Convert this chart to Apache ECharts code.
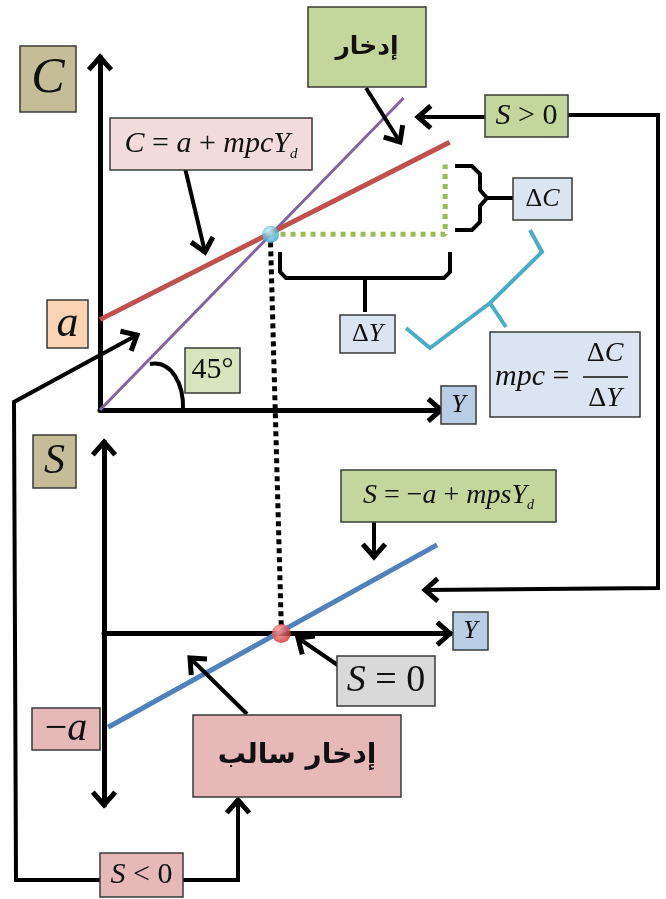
<!DOCTYPE html>
<html>
<head>
<meta charset="utf-8">
<script src="https://cdn.jsdelivr.net/npm/echarts@6/dist/echarts.min.js"></script>
<style>
html, body { margin: 0; padding: 0; background: #fff; }
#main { width: 666px; height: 899px; }
</style>
</head>
<body>
<div id="main"></div>
<script>
// upper panel: consumption C against income Y
var line45 = [[0, 0], [8.9, 9.15]];
var consumption = [[0, 2.65], [10.25, 7.85]];
var breakEvenC = [[5.0, 5.15]];
var deltaSteps = [[5.0, 5.15], [10.12, 5.15], [10.12, 7.2]];
// lower panel: saving S against income Y
var saving = [[0.12, -2.75], [9.77, 2.6]];
var breakEvenS = [[5.2, 0]];
// axis ranges (34.1 px per unit in both panels)
var topX = [0, 10], topY = [0, 10.35];
var topPlotX = [0, 10.32];
var botX = [0, 10.15], botY = [-5.03, 5.62];

var MATH = '"Liberation Serif", "DejaVu Serif", serif';
var ARAB = '"DejaVu Sans", sans-serif';
var INK = '#111';

var chart = echarts.init(document.getElementById('main'));

function axis(grid, range, showLine) {
    return {
        gridIndex: grid, type: 'value', min: range[0], max: range[1],
        axisLine: { show: showLine, lineStyle: { color: '#000', width: 5 } },
        axisTick: { show: false }, axisLabel: { show: false }, splitLine: { show: false }
    };
}

function ball(c1, c2) {
    return { type: 'radial', x: 0.4, y: 0.35, r: 0.75,
        colorStops: [{ offset: 0, color: c1 }, { offset: 1, color: c2 }] };
}

chart.setOption({
    animation: false,
    backgroundColor: '#fff',
    grid: [
        { left: 100, top: 57, width: 352, height: 353 },   // upper plot area
        { left: 104, top: 442, width: 346, height: 363 },  // lower plot area
        { left: 100, top: 57, width: 341, height: 353 }    // upper axes
    ],
    xAxis: [axis(0, topPlotX, false), axis(1, botX, true), axis(2, topX, true)],
    yAxis: [axis(0, topY, false), axis(1, botY, true), axis(2, topY, true)],
    series: [
        { type: 'line', xAxisIndex: 0, yAxisIndex: 0, data: line45, symbol: 'none',
          lineStyle: { color: '#8064a2', width: 3 } },
        { type: 'line', xAxisIndex: 0, yAxisIndex: 0, data: consumption, symbol: 'none',
          lineStyle: { color: '#c0504d', width: 5 } },
        { type: 'line', xAxisIndex: 0, yAxisIndex: 0, data: deltaSteps, symbol: 'none',
          lineStyle: { color: '#9bbb59', width: 5, type: [5, 5], cap: 'butt' } },
        { type: 'scatter', xAxisIndex: 0, yAxisIndex: 0, data: breakEvenC, symbolSize: 17, z: 5,
          itemStyle: { color: ball('#c8f6ff', '#1591bd') } },
        { type: 'line', xAxisIndex: 1, yAxisIndex: 1, data: saving, symbol: 'none',
          lineStyle: { color: '#4f81bd', width: 5 } },
        { type: 'scatter', xAxisIndex: 1, yAxisIndex: 1, data: breakEvenS, symbolSize: 19, z: 5,
          itemStyle: { color: ball('#ff9c9c', '#c62020') } }
    ]
});

// ---- annotations ----
function px(grid, pt) { return chart.convertToPixel({ gridIndex: grid }, pt); }

function stroke(w) { return { stroke: '#000', lineWidth: w || 4, fill: null, lineJoin: 'miter', lineCap: 'butt' }; }

function head(tip, ang) {
    var len = 17, spr = 0.72;
    var a1 = ang + Math.PI - spr, a2 = ang + Math.PI + spr;
    return { type: 'polyline', z: 12, shape: { points: [
        [tip[0] + len * Math.cos(a1), tip[1] + len * Math.sin(a1)], tip,
        [tip[0] + len * Math.cos(a2), tip[1] + len * Math.sin(a2)]] }, style: stroke(5) };
}

function arrow(pts) {
    var a = pts[pts.length - 2], b = pts[pts.length - 1];
    return [
        { type: 'polyline', z: 12, shape: { points: pts }, style: stroke(4) },
        head(b, Math.atan2(b[1] - a[1], b[0] - a[0]))
    ];
}

function rich(size) {
    return {
        i: { fontFamily: MATH, fontStyle: 'italic', fontSize: size, fill: INK, lineHeight: size * 1.2 },
        u: { fontFamily: MATH, fontSize: size, fill: INK, lineHeight: size * 1.2 },
        s: { fontFamily: MATH, fontStyle: 'italic', fontSize: size * 0.5, fill: INK,
             lineHeight: size * 0.5, verticalAlign: 'bottom' }
    };
}

function box(x, y, w, h, fill, text, size, font) {
    var st = { text: text, x: w / 2, y: h / 2, align: 'center', verticalAlign: 'middle',
               textAlign: 'center', textVerticalAlign: 'middle', fill: INK };
    if (font) st.font = font; else st.rich = rich(size);
    return { type: 'group', x: x, y: y, z: 20, children: [
        { type: 'rect', z: 20, shape: { x: 0, y: 0, width: w, height: h },
          style: { fill: fill, stroke: '#3a3a3a', lineWidth: 1.5 } },
        { type: 'text', z: 21, style: st }
    ] };
}

var TAN = '#c4bd97', PINK = '#f2dcdb', GREEN = '#c3d69b', LGREEN = '#d7e4bd',
    LBLUE = '#dbe5f1', BLUE = '#b9cde5', PEACH = '#fbd4b4', ROSE = '#e6b9b8', GREY = '#d9d9d9';

var g = [];

// axis arrow heads at the ends of the library axes
var tC = px(2, [0, topY[1]]), tY = px(2, [topX[1], 0]);
var bS1 = px(1, [0, botY[1]]), bS2 = px(1, [0, botY[0]]), bY = px(1, [botX[1], 0]);
g.push(head(tC, -Math.PI / 2), head(tY, 0), head(bS1, -Math.PI / 2), head(bS2, Math.PI / 2), head(bY, 0));

// dotted link between the two break-even points
var d1 = px(0, breakEvenC[0]), d2 = px(1, breakEvenS[0]);
g.push({ type: 'line', z: 1, shape: { x1: d1[0], y1: d1[1] + 8, x2: d2[0], y2: d2[1] - 8 },
         style: { stroke: '#000', lineWidth: 5, lineDash: [5, 4] } });

// boxes
g.push(box(20, 46, 56, 66, TAN, '{i|C}', 50));
g.push(box(110, 118, 202, 52, PINK, '{i|C}{u| = }{i|a}{u| + }{i|mpcY}{s|d}', 30));
g.push(box(308, 7, 118, 80, GREEN, 'إدخار', 0, 'bold 25px ' + ARAB));
g.push(box(485, 95, 83, 42, GREEN, '{i|S}{u| > 0}', 30));
g.push(box(513, 178, 59, 42, LBLUE, '{u|Δ}{i|C}', 26));
g.push(box(340, 315, 55, 38, LBLUE, '{u|Δ}{i|Y}', 26));
g.push(box(47, 300, 41, 48, PEACH, '{i|a}', 44));
g.push(box(185, 348, 55, 45, LGREEN, '{u|45°}', 30));
g.push(box(441, 386, 35, 38, BLUE, '{i|Y}', 26));
g.push(box(33, 435, 43, 53, TAN, '{i|S}', 42));
g.push(box(341, 470, 215, 52, GREEN, '{i|S}{u| = −}{i|a}{u| + }{i|mpsY}{s|d}', 28));
g.push(box(453, 612, 35, 38, BLUE, '{i|Y}', 26));
g.push(box(337, 656, 98, 50, GREY, '{i|S}{u| = 0}', 38));
g.push(box(32, 708, 68, 42, ROSE, '{u|−}{i|a}', 40));
g.push(box(193, 715, 208, 82, ROSE, 'إدخار سالب', 0, 'bold 28px ' + ARAB));
g.push(box(100, 853, 83, 44, ROSE, '{i|S}{u| < 0}', 30));

// mpc = ΔC / ΔY
g.push({ type: 'group', x: 490, y: 332, z: 20, children: [
    { type: 'rect', z: 20, shape: { x: 0, y: 0, width: 150, height: 85 },
      style: { fill: LBLUE, stroke: '#3a3a3a', lineWidth: 1.5 } },
    { type: 'text', z: 21, style: { text: '{i|mpc}{u| =}', rich: rich(30), x: 5, y: 45,
      align: 'left', verticalAlign: 'middle', textAlign: 'left', textVerticalAlign: 'middle' } },
    { type: 'text', z: 21, style: { text: '{u|Δ}{i|C}', rich: rich(28), x: 115, y: 22,
      align: 'center', verticalAlign: 'middle', textAlign: 'center', textVerticalAlign: 'middle' } },
    { type: 'line', z: 21, shape: { x1: 93, y1: 45, x2: 138, y2: 45 }, style: { stroke: INK, lineWidth: 1.5 } },
    { type: 'text', z: 21, style: { text: '{u|Δ}{i|Y}', rich: rich(28), x: 115, y: 67,
      align: 'center', verticalAlign: 'middle', textAlign: 'center', textVerticalAlign: 'middle' } }
] });

// pointer arrows
g = g.concat(arrow([[185, 168], [205, 252]]));
g = g.concat(arrow([[366, 88], [400, 142]]));
g = g.concat(arrow([[485, 117], [418, 117]]));
g = g.concat(arrow([[568, 115], [658, 115], [658, 588], [425, 590]]));
g = g.concat(arrow([[100, 880], [16, 880], [14, 402], [137, 335]]));
g = g.concat(arrow([[183, 880], [238, 880], [238, 800]]));
g = g.concat(arrow([[374, 522], [374, 557]]));
g = g.concat(arrow([[247, 714], [190, 658]]));
g = g.concat(arrow([[342, 668], [298, 638]]));

// braces
g.push({ type: 'polyline', z: 12, shape: { points: [[455, 166], [472, 166], [480, 174], [480, 190], [487, 198], [480, 206], [480, 222], [472, 230], [455, 230]] }, style: stroke(4) });
g.push({ type: 'line', z: 12, shape: { x1: 487, y1: 198, x2: 513, y2: 198 }, style: stroke(4) });
g.push({ type: 'polyline', z: 12, shape: { points: [[280, 252], [280, 272], [286, 278], [444, 278], [450, 272], [450, 252]] }, style: stroke(4) });
g.push({ type: 'line', z: 12, shape: { x1: 365, y1: 278, x2: 365, y2: 312 }, style: stroke(4) });
g.push({ type: 'polyline', z: 12, shape: { points: [[530, 230], [542, 252], [490, 303], [430, 348], [406, 328]] },
         style: { stroke: '#4bacc6', lineWidth: 4, fill: null } });
g.push({ type: 'line', z: 12, shape: { x1: 490, y1: 303, x2: 506, y2: 327 }, style: { stroke: '#4bacc6', lineWidth: 4 } });

// 45 degree arc
g.push({ type: 'bezierCurve', z: 12, shape: { x1: 150, y1: 364, cpx1: 172, cpy1: 360, cpx2: 184, cpy2: 385, x2: 183, y2: 410 },
         style: stroke(4) });

chart.setOption({ graphic: { elements: g } });
</script>
</body>
</html>
